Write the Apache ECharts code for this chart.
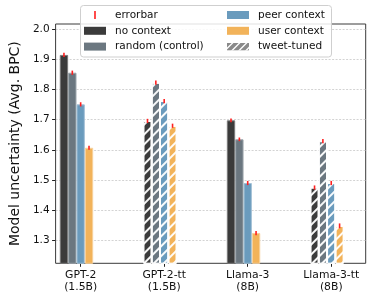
<!DOCTYPE html>
<html><head><meta charset="utf-8">
<script src="https://cdn.jsdelivr.net/npm/echarts@6/dist/echarts.min.js"></script>
<style>html,body{margin:0;padding:0;background:#fff}#c{width:373px;height:299px}</style>
</head><body><div id="c"></div>
<script>
const categories = ['GPT-2\n(1.5B)', 'GPT-2-tt\n(1.5B)', 'Llama-3\n(8B)', 'Llama-3-tt\n(8B)'];
const tweetTuned = [false, true, false, true];
const noContext = [1.915, 1.696, 1.698, 1.475];
const randomControl = [1.856, 1.823, 1.635, 1.629];
const peerContext = [1.751, 1.762, 1.490, 1.490];
const userContext = [1.607, 1.680, 1.324, 1.348];
const errNo = [0.007, 0.007, 0.006, 0.007];
const errRandom = [0.007, 0.007, 0.006, 0.007];
const errPeer = [0.007, 0.007, 0.007, 0.007];
const errUser = [0.007, 0.007, 0.007, 0.008];
const yTicks = [1.3, 1.4, 1.5, 1.6, 1.7, 1.8, 1.9, 2.0];

const FONT = 'DejaVu Sans';
const seriesDefs = [
  {name: 'no context', values: noContext, err: errNo, color: '#3b3b3b', edge: '#7a7a7a'},
  {name: 'random (control)', values: randomControl, err: errRandom, color: '#6b7780', edge: '#9aa3aa'},
  {name: 'peer context', values: peerContext, err: errPeer, color: '#6a9bbd', edge: '#a4c1d6'},
  {name: 'user context', values: userContext, err: errUser, color: '#f2b35a', edge: '#f7d19c'}
];
const hatch = {symbol: 'rect', color: 'rgba(255,255,255,0.95)', dashArrayX: [1, 0], dashArrayY: [1.4, 4.8], rotation: -Math.PI / 4};

const barSeries = seriesDefs.map(d => ({
  type: 'bar', name: d.name, xAxisIndex: 0, yAxisIndex: 0,
  barWidth: '10%', barGap: '0%', z: 2,
  itemStyle: {color: d.color},
  data: d.values.map((v, i) => tweetTuned[i]
    ? {value: v, itemStyle: {borderColor: '#ffffff', borderWidth: 1, decal: hatch}}
    : {value: v, itemStyle: {borderColor: d.edge, borderWidth: 1}})
}));

const errData = [];
seriesDefs.forEach((d, k) => d.values.forEach((v, i) => errData.push([i, v, d.err[i], k])));

const hatchIcon = 'image://data:image/svg+xml;utf8,' + encodeURIComponent(
  "<svg xmlns='http://www.w3.org/2000/svg' width='22' height='8'><rect width='22' height='8' fill='#8a8a8a'/>" +
  "<path d='M-3,9 L6,0 M4,9 L13,0 M11,9 L20,0 M18,9 L27,0' stroke='white' stroke-width='1.4'/></svg>");
const errIcon = 'path://M10.2,0h1.6v8h-1.6zM0,0h0.01v0.01h-0.01zM22,8h0.01v0.01h-0.01z';

const option = {
  animation: false,
  backgroundColor: '#fff',
  textStyle: {fontFamily: FONT},
  grid: [
    {left: 38.9, right: -8.1, top: 24, bottom: 35.7},
    {left: 44, right: 7.3, top: 24, bottom: 35.7, show: true, borderColor: '#3a3a3a', borderWidth: 1, backgroundColor: 'transparent'}
  ],
  xAxis: [
    {type: 'category', gridIndex: 0, data: categories,
     axisLine: {show: false},
     axisTick: {show: true, alignWithLabel: true, length: 3.5, lineStyle: {color: '#222'}},
     axisLabel: {fontFamily: FONT, fontSize: 10.8, color: '#111', lineHeight: 11.8, margin: 6}},
    {type: 'value', gridIndex: 1, show: false, min: 0, max: 1}
  ],
  yAxis: [
    {type: 'value', gridIndex: 0, min: 1.2237, max: 2.0176, show: false},
    {type: 'value', gridIndex: 1, min: 1.2237, max: 2.0176,
     name: 'Model uncertainty (Avg. BPC)', nameLocation: 'middle', nameGap: 24,
     nameTextStyle: {fontFamily: FONT, fontSize: 14, color: '#111'},
     axisLine: {show: false},
     axisTick: {show: true, length: 3.5, customValues: yTicks, lineStyle: {color: '#222'}},
     axisLabel: {fontFamily: FONT, fontSize: 10.5, color: '#111', margin: 6, customValues: yTicks,
                 formatter: v => v.toFixed(1)},
     splitLine: {show: true, lineStyle: {color: '#c8c8c8', type: [2, 1.5], width: 0.8}}}
  ],
  legend: [
    {orient: 'vertical', left: 84, top: 8, padding: 0, itemGap: 1.8, itemWidth: 22, itemHeight: 8,
     textStyle: {fontFamily: FONT, fontSize: 10.5, color: '#111', lineHeight: 14, padding: [0, 0, 0, 4]},
     data: [{name: 'errorbar', icon: errIcon}, {name: 'no context', icon: 'rect'}, {name: 'random (control)', icon: 'rect'}]},
    {orient: 'vertical', left: 227, top: 8, padding: 0, itemGap: 1.8, itemWidth: 22, itemHeight: 8,
     textStyle: {fontFamily: FONT, fontSize: 10.5, color: '#111', lineHeight: 14, padding: [0, 0, 0, 4]},
     data: [{name: 'peer context', icon: 'rect'}, {name: 'user context', icon: 'rect'}, {name: 'tweet-tuned', icon: hatchIcon}]}
  ],
  graphic: [
    {type: 'rect', z: 3, shape: {x: 80.5, y: 5.5, width: 251, height: 51.5, r: 3},
     style: {fill: 'rgba(255,255,255,0.85)', stroke: '#cfcfcf', lineWidth: 1}}
  ],
  series: [
    ...barSeries,
    {type: 'bar', name: 'tweet-tuned', xAxisIndex: 0, yAxisIndex: 0, barWidth: '10%', barGap: '0%',
     itemStyle: {color: '#8a8a8a'}, data: []},
    {type: 'custom', name: 'errorbar', xAxisIndex: 0, yAxisIndex: 0, z: 5,
     itemStyle: {color: '#ff2020'},
     encode: {x: 0, y: 1},
     data: errData,
     renderItem: function (params, api) {
       const i = api.value(0), v = api.value(1), e = api.value(2), k = api.value(3);
       const c = api.coord([i, v]);
       const band = api.size([1, 0])[0];
       const x = c[0] + band * (-0.2 + 0.1 * k);
       const y1 = api.coord([i, v + e])[1];
       const y2 = api.coord([i, v - e])[1];
       return {type: 'line', shape: {x1: x, y1: y1, x2: x, y2: y2},
               style: {stroke: '#ff2020', lineWidth: 1.6}};
     }}
  ]
};
const chart = echarts.init(document.getElementById('c'), null, {renderer: 'canvas'});
chart.setOption(option);
</script></body></html>
